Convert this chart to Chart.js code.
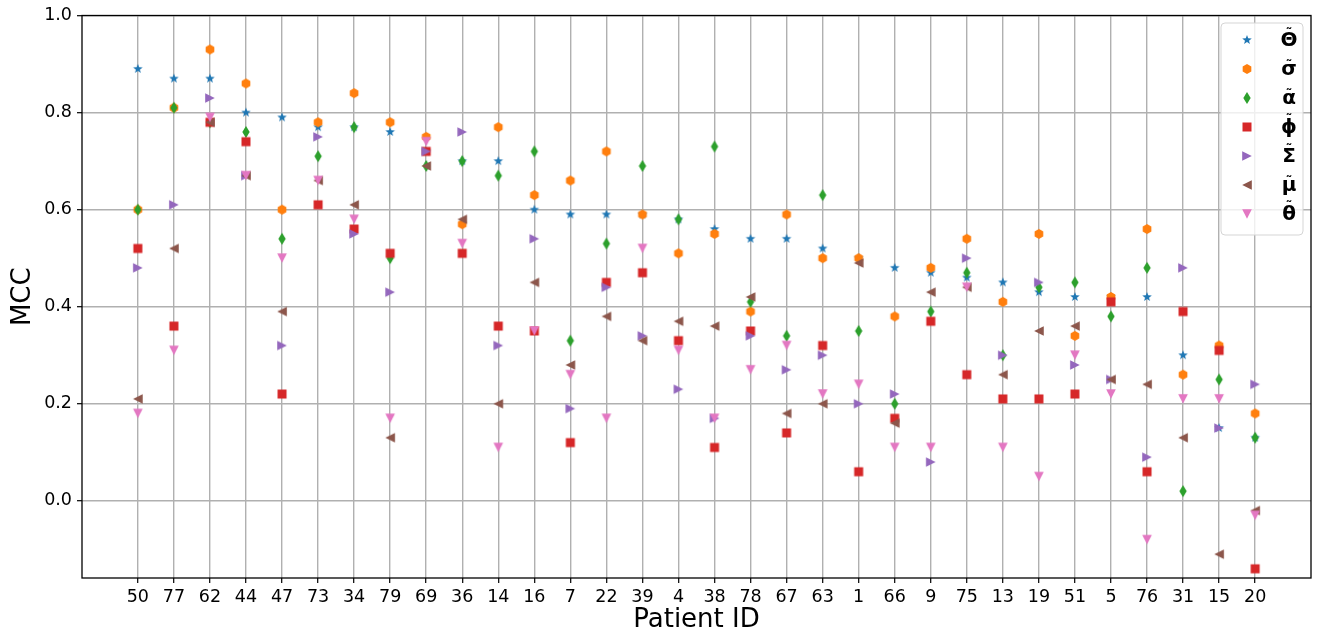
<!DOCTYPE html>
<html>
<head>
<meta charset="utf-8">
<script src="https://cdn.jsdelivr.net/npm/chart.js@4.4.1/dist/chart.umd.min.js"></script>
<style>
  body { margin: 0; background: #fff; }
</style>
</head>
<body>
<canvas id="myChart" width="1319" height="639"></canvas>
<script>
// patients on the x axis, in plotted order
const patientIds = ["50", "77", "62", "44", "47", "73", "34", "79", "69", "36", "14", "16", "7", "22", "39", "4",
                    "38", "78", "67", "63", "1", "66", "9", "75", "13", "19", "51", "5", "76", "31", "15", "20"];

// MCC per metric
const thetaCap = [0.89, 0.87, 0.87, 0.80, 0.79, 0.77, 0.77, 0.76, 0.72, 0.70, 0.70, 0.60, 0.59, 0.59, 0.59, 0.58,
                  0.56, 0.54, 0.54, 0.52, 0.50, 0.48, 0.47, 0.46, 0.45, 0.43, 0.42, 0.42, 0.42, 0.30, 0.15, 0.13];
const sigma    = [0.60, 0.81, 0.93, 0.86, 0.60, 0.78, 0.84, 0.78, 0.75, 0.57, 0.77, 0.63, 0.66, 0.72, 0.59, 0.51,
                  0.55, 0.39, 0.59, 0.50, 0.50, 0.38, 0.48, 0.54, 0.41, 0.55, 0.34, 0.42, 0.56, 0.26, 0.32, 0.18];
const alpha    = [0.60, 0.81, 0.78, 0.76, 0.54, 0.71, 0.77, 0.50, 0.69, 0.70, 0.67, 0.72, 0.33, 0.53, 0.69, 0.58,
                  0.73, 0.41, 0.34, 0.63, 0.35, 0.20, 0.39, 0.47, 0.30, 0.44, 0.45, 0.38, 0.48, 0.02, 0.25, 0.13];
const phi      = [0.52, 0.36, 0.78, 0.74, 0.22, 0.61, 0.56, 0.51, 0.72, 0.51, 0.36, 0.35, 0.12, 0.45, 0.47, 0.33,
                  0.11, 0.35, 0.14, 0.32, 0.06, 0.17, 0.37, 0.26, 0.21, 0.21, 0.22, 0.41, 0.06, 0.39, 0.31, -0.14];
const sigmaCap = [0.48, 0.61, 0.83, 0.67, 0.32, 0.75, 0.55, 0.43, 0.72, 0.76, 0.32, 0.54, 0.19, 0.44, 0.34, 0.23,
                  0.17, 0.34, 0.27, 0.30, 0.20, 0.22, 0.08, 0.50, 0.30, 0.45, 0.28, 0.25, 0.09, 0.48, 0.15, 0.24];
const mu       = [0.21, 0.52, 0.78, 0.67, 0.39, 0.66, 0.61, 0.13, 0.69, 0.58, 0.20, 0.45, 0.28, 0.38, 0.33, 0.37,
                  0.36, 0.42, 0.18, 0.20, 0.49, 0.16, 0.43, 0.44, 0.26, 0.35, 0.36, 0.25, 0.24, 0.13, -0.11, -0.02];
const theta    = [0.18, 0.31, 0.79, 0.67, 0.50, 0.66, 0.58, 0.17, 0.74, 0.53, 0.11, 0.35, 0.26, 0.17, 0.52, 0.31,
                  0.17, 0.27, 0.32, 0.22, 0.24, 0.11, 0.11, 0.44, 0.11, 0.05, 0.30, 0.22, -0.08, 0.21, 0.21, -0.03];

const yTicks = [0.0, 0.2, 0.4, 0.6, 0.8, 1.0];

// little canvases used as point styles (matplotlib-like markers)
function marker(color, draw) {
  const c = document.createElement("canvas");
  c.width = 14; c.height = 14;
  const g = c.getContext("2d");
  g.translate(7, 7);
  g.fillStyle = color;
  g.beginPath();
  draw(g);
  g.closePath();
  g.fill();
  return c;
}

function poly(g, pts) {
  g.moveTo(pts[0][0], pts[0][1]);
  pts.slice(1).forEach(p => g.lineTo(p[0], p[1]));
}

function ring(n, r, start) {
  const pts = [];
  for (let i = 0; i < n; i++) {
    const a = start + i * 2 * Math.PI / n;
    pts.push([Math.cos(a) * r, Math.sin(a) * r]);
  }
  return pts;
}

const star = marker("#1f77b4", g => {
  const pts = [];
  for (let i = 0; i < 10; i++) {
    const r = i % 2 === 0 ? 5 : 2.1;
    const a = -Math.PI / 2 + i * Math.PI / 5;
    pts.push([Math.cos(a) * r, Math.sin(a) * r]);
  }
  poly(g, pts);
});
const hexagon = marker("#ff7f0e", g => poly(g, ring(6, 5, -Math.PI / 2)));
const thinDiamond = marker("#2ca02c", g => poly(g, [[0, -6], [3.7, 0], [0, 6], [-3.7, 0]]));
const square = marker("#d62728", g => poly(g, [[-4.5, -4.5], [4.5, -4.5], [4.5, 4.5], [-4.5, 4.5]]));
const triRight = marker("#9467bd", g => poly(g, [[4.8, 0], [-4.8, -4.8], [-4.8, 4.8]]));
const triLeft = marker("#8c564b", g => poly(g, [[-4.8, 0], [4.8, -4.8], [4.8, 4.8]]));
const triDown = marker("#e377c2", g => poly(g, [[0, 4.8], [-4.8, -4.8], [4.8, -4.8]]));

const series = [
  { label: "\u0398\u0303", values: thetaCap, style: star },
  { label: "\u03C3\u0303", values: sigma, style: hexagon },
  { label: "\u03B1\u0303", values: alpha, style: thinDiamond },
  { label: "\u03D5\u0303", values: phi, style: square },
  { label: "\u03A3\u0303", values: sigmaCap, style: triRight },
  { label: "\u03BC\u0303", values: mu, style: triLeft },
  { label: "\u03B8\u0303", values: theta, style: triDown },
];

// axes frame on top of the points, then the legend box
const framePlugin = {
  id: "frame",
  afterDatasetsDraw(chart) {
    const { ctx, chartArea: a } = chart;
    ctx.save();
    ctx.strokeStyle = "#000";
    ctx.lineWidth = 1.3;
    ctx.strokeRect(a.left, a.top, a.right - a.left, a.bottom - a.top);

    const boxX = 1221, boxY = 23, boxW = 82, boxH = 212;
    ctx.beginPath();
    ctx.roundRect(boxX, boxY, boxW, boxH, 4);
    ctx.fillStyle = "rgba(255,255,255,0.8)";
    ctx.fill();
    ctx.strokeStyle = "#d5d5d5";
    ctx.lineWidth = 1;
    ctx.stroke();

    ctx.fillStyle = "#000";
    ctx.textAlign = "center";
    ctx.textBaseline = "alphabetic";
    chart.data.datasets.forEach((ds, i) => {
      const y = 40 + i * 29;
      ctx.drawImage(ds.pointStyle, 1247 - 7, y - 7);
      // base letter, then a small tilde just above it
      const base = ds.label[0];
      ctx.font = "bold 20px 'DejaVu Sans'";
      const m = ctx.measureText(base);
      const baseline = y + 6;
      ctx.fillText(base, 1289, baseline);
      const letterTop = baseline - m.actualBoundingBoxAscent;
      ctx.font = "bold 14px 'DejaVu Sans'";
      const tm = ctx.measureText("\u02DC");
      ctx.fillText("\u02DC", 1289, letterTop - 2 - tm.actualBoundingBoxDescent);
    });
    ctx.restore();
  }
};

Chart.defaults.font.family = "'DejaVu Sans', sans-serif";
Chart.defaults.color = "#000";

new Chart(document.getElementById("myChart"), {
  type: "scatter",
  data: {
    datasets: series.map((s, i) => ({
      label: s.label,
      data: s.values.map((v, j) => ({ x: j, y: v })),
      pointStyle: s.style,
      pointRadius: 5,
      order: series.length - 1 - i
    }))
  },
  options: {
    responsive: false,
    animation: false,
    devicePixelRatio: 1,
    layout: { padding: { top: 14, right: 8, left: 0, bottom: 0 } },
    plugins: {
      legend: { display: false },
      tooltip: { enabled: false }
    },
    scales: {
      x: {
        type: "linear",
        min: -1.55,
        max: patientIds.length - 1 + 1.55,
        afterBuildTicks: scale => {
          scale.ticks = patientIds.map((_, i) => ({ value: i }));
        },
        afterFit: scale => { scale.height = 61; },
        ticks: {
          autoSkip: false,
          maxRotation: 0,
          padding: 4,
          font: { size: 17.5 },
          callback: v => patientIds[v]
        },
        grid: { color: "#b0b0b0", lineWidth: 1.4, tickColor: "#000", tickLength: 5, tickWidth: 1.2 },
        border: { display: false },
        title: { display: true, text: "Patient ID", font: { size: 26 }, padding: { top: 0, bottom: 3 } }
      },
      y: {
        min: -0.159,
        max: 1.0,
        afterBuildTicks: scale => {
          scale.ticks = yTicks.map(v => ({ value: v }));
        },
        afterFit: scale => { scale.width = 82; },
        ticks: {
          padding: 5,
          font: { size: 17.5 },
          callback: v => v.toFixed(1)
        },
        grid: { color: "#b0b0b0", lineWidth: 1.4, tickColor: "#000", tickLength: 5, tickWidth: 1.2 },
        border: { display: false },
        title: { display: true, text: "MCC", font: { size: 26 }, padding: { top: 8, bottom: 0 } }
      }
    }
  },
  plugins: [framePlugin]
});
</script>
</body>
</html>
